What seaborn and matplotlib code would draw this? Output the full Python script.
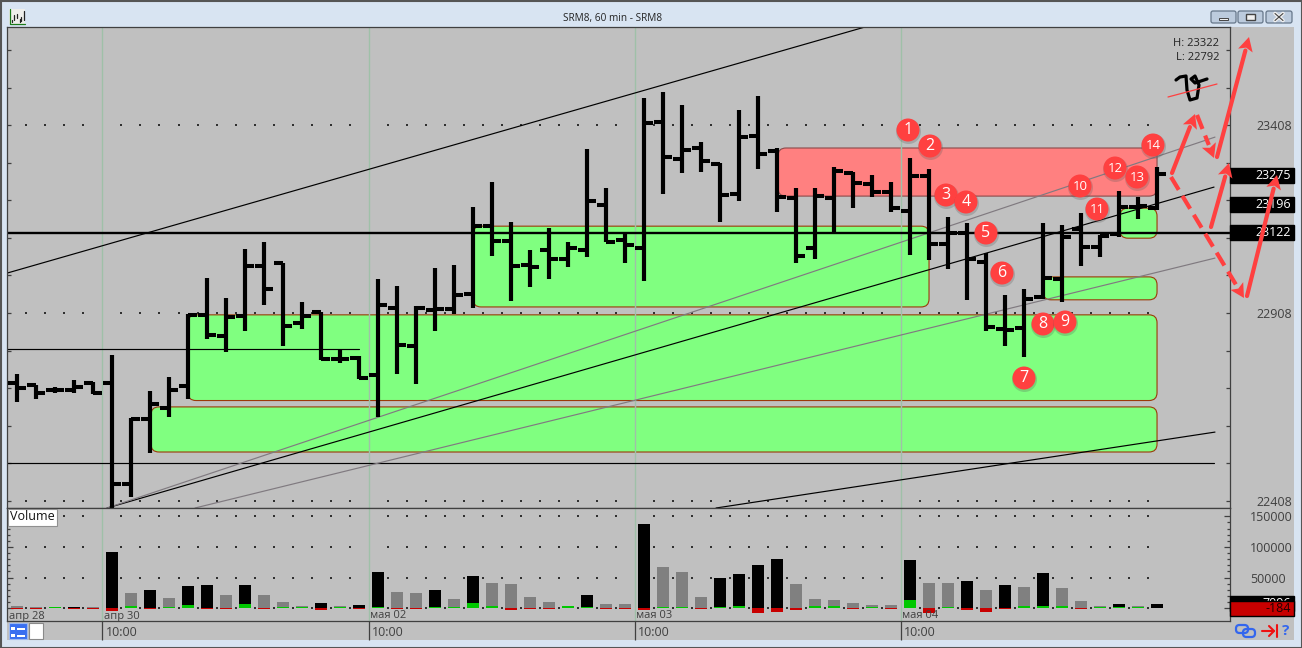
import numpy as np
import pandas as pd
import seaborn as sns
import matplotlib.pyplot as plt
from matplotlib.patches import Rectangle, FancyBboxPatch, Circle, Polygon

# hourly bars, bar 0 is the 10:00 bar of apr 30
bars = list(range(-5, 56))
highs = [22746, 22716, 22711, 22730, 22724, 22796, 22629, 22700, 22738, 22905, 23001, 22948, 23078, 23097, 23041,
         22937, 22911, 22810, 22794, 22998, 22980, 22927, 23028, 23036, 23190, 23256, 23150, 23076, 23134, 23097,
         23344, 23240, 23123, 23480, 23496, 23461, 23363, 23307, 23448, 23485, 23347, 23240, 23240, 23296, 23283,
         23275, 23256, 23320, 23291, 23163, 23147, 23068, 22956, 22972, 23147, 23142, 23174, 23115, 23232, 23216,
         23296]
lows = [22671, 22679, 22695, 22695, 22692, 22389, 22418, 22536, 22631, 22679, 22839, 22804, 22860, 22929, 22820,
        22865, 22783, 22775, 22732, 22631, 22746, 22719, 22860, 22905, 22921, 23060, 22940, 22977, 22998, 23030,
        23057, 23097, 23041, 22993, 23224, 23280, 23283, 23150, 23206, 23291, 23177, 23041, 23052, 23123, 23187,
        23216, 23177, 23062, 23049, 23025, 22943, 22860, 22820, 22791, 22945, 22937, 23033, 23057, 23110, 23158,
        23182]
opens = [22722, 22716, 22703, 22703, 22722, 22722, 22453, 22626, 22655, 22714, 22903, 22847, 22900, 23033, 23041,
         22881, 22911, 22786, 22788, 22743, 22921, 22820, 22916, 22919, 22958, 23139, 23099, 23036, 23076, 23052,
         23076, 23195, 23102, 23081, 23416, 23318, 23347, 23304, 23224, 23379, 23339, 23214, 23081, 23214, 23280,
         23251, 23230, 23179, 23272, 23091, 23121, 23044, 22865, 22868, 22950, 22998, 23131, 23083, 23118, 23190,
         23187]
closes = [22708, 22695, 22703, 22711, 22695, 22453, 22626, 22666, 22703, 22903, 22849, 22897, 23033, 22972, 22873,
          22900, 22786, 22786, 22735, 22929, 22823, 22921, 22919, 22956, 23139, 23099, 23033, 23030, 23052, 23081,
          23206, 23097, 23089, 23413, 23323, 23342, 23312, 23222, 23376, 23331, 23216, 23060, 23219, 23286, 23254,
          23230, 23187, 23272, 23091, 23121, 23052, 22871, 22863, 22945, 23001, 23110, 23083, 23113, 23190, 23193,
          23278]

volume = [3300, 2500, 2500, 2500, 2500, 91000, 24500, 29300, 16300, 35900, 37500, 21200, 37500, 21200, 9800,
          4000, 8150, 3300, 4900, 58700, 26000, 24500, 29300, 15200, 52700, 41300, 39700, 18500, 10300, 3800,
          21700, 7000, 7000, 137500, 67400, 59200, 18500, 49400, 56000, 70600, 80400, 39700, 15200, 13600, 8700,
          5400, 5400, 78800, 41300, 41300, 44600, 29900, 38000, 34800, 57600, 33200, 12000, 3800, 7000, 3800,
          7096]
delta = [-1000, -1000, 2000, -1000, -1000, -5000, 4500, -1000, 2000, 5000, -1000, -1000, 6500, -1000, 2000,
         2000, -3000, 2500, -1500, 2000, -1000, -1000, 2000, 2500, 8700, 3800, -2700, -1000, -1000, 3000,
         2700, -1000, -1000, -2500, 2700, 2700, -1000, 2700, 3800, -7600, -6000, -2700, 3800, 3800, -1000,
         2700, -1000, 13600, -7600, 2700, -2700, -6000, -1000, 3800, 3800, 3800, -1000, 2700, 2700, 2700,
         -184]
vol_side = list("gggkg" "kgkgkkgkgggkgkkggkgkggggg" "kggkgggkkkkgggggg" "kggkgkgkgggkgk")

# zones: first bar, last bar, top price, bottom price
green_zones = [(4, 55, 22903, 22675), (2.05, 55, 22658, 22538), (19, 43, 23139, 22924),
               (49, 55, 23004, 22943), (53.05, 55, 23187, 23107)]
red_zones = [(35.05, 55, 23347, 23219)]

# lines: x0, price0, x1, price1
black_lines = [(-0.26, 22389, 58, 23243), (-5.53, 23014, 39.63, 23669), (31.79, 22389, 58.05, 22591),
               (-5.53, 22811, 13, 22811), (-5.53, 22508, 58, 22508)]
gray_lines = [(-0.26, 22389, 58.05, 23376), (4.37, 22389, 58.05, 23054)]
main_level = 23122

day_starts = [-0.5, 13.5, 27.5, 41.5]
date_labels = ["апр 28", "апр 30", "мая 02", "мая 03", "мая 04"]
date_x = [-5.4, -0.4, 13.6, 27.6, 41.6]
price_labels = [23408, 22908, 22408]
price_tags = [23275, 23196, 23122]
volume_labels = [150000, 100000, 50000]

# hand drawn marks on top of the screenshot, in pixels
circle_xy = [(908, 130), (930, 146), (946, 195), (966, 202), (986, 233), (1002, 273), (1024, 378), (1043, 324),
             (1065, 322), (1080, 186), (1097, 209), (1115, 168), (1137, 177), (1153, 145)]
solid_arrows = [((1172, 173), (1195, 114)), ((1217, 157), (1249, 37)), ((1211, 227), (1229, 163)),
                ((1247, 296), (1277, 175))]
dashed_arrows = [((1197, 115), (1214, 158)), ((1171, 177), (1244, 298))]
scribble = [(1176, 80), (1180, 77), (1186, 76), (1187, 90), (1190, 100), (1197, 98), (1199, 85), (1195, 76),
            (1191, 79), (1195, 83), (1207, 79)]

W, H = 1302, 648
GRAY = "#c0c0c0"
CHROME = "#d8e4f2"
DARK = "#404040"
RED = "#ff4040"

sns.set_theme(style="white", rc={"axes.linewidth": 0.9, "axes.edgecolor": DARK, "xtick.color": DARK,
                                 "ytick.color": DARK, "text.color": DARK})
plt.rcParams["font.family"] = ["Open Sans", "DejaVu Sans"]


def px_axes(fig, left, top, right, bottom, **kw):
    return fig.add_axes([left / W, 1 - bottom / H, (right - left) / W, (bottom - top) / H], **kw)


def add_dots(ax, levels):
    dot_x = [b + 0.5 for b in bars[:-1] if b + 0.5 not in day_starts]
    xx, yy = np.meshgrid(dot_x, levels)
    sns.scatterplot(x=xx.ravel(), y=yy.ravel(), color="#303030", s=0.8, marker="s", linewidth=0, ax=ax,
                    legend=False, zorder=0.5)


def add_tag(ax, value, text, face, text_color, zorder=5, edge=None):
    x_tr = ax.get_yaxis_transform()
    y0, y1 = ax.get_ylim()
    box_h = 15 / ax.get_window_extent().height * (y1 - y0)
    ax.add_patch(Rectangle((1, value - box_h / 2), 64 / 1223, box_h, transform=x_tr, clip_on=False,
                           facecolor=face, edgecolor=edge or face, lw=1, zorder=zorder))
    ax.annotate(text, xy=(1, value), xycoords=x_tr, xytext=(61, 0), textcoords="offset pixels", ha="right",
                va="center", color=text_color, fontsize=9, annotation_clip=False, zorder=zorder + 0.1)


def draw_arrow(ax, start, end, dashed=False):
    start, end = np.array(start, float), np.array(end, float)
    unit = (end - start) / np.linalg.norm(end - start)
    normal = np.array([-unit[1], unit[0]])
    base = end - unit * 14
    ax.plot([start[0], base[0]], [start[1], base[1]], color=RED, lw=3, solid_capstyle="round",
            dashes=(3.6, 1.7) if dashed else (None, None))
    ax.add_patch(Polygon([end, base + normal * 7.5, base + unit * 3, base - normal * 7.5], color=RED, lw=0))


fig = plt.figure(figsize=(W / 100, H / 100), dpi=100)

# window chrome
bg = fig.add_axes([0, 0, 1, 1], zorder=-1)
bg.set_xlim(0, W)
bg.set_ylim(H, 0)
bg.axis("off")
bg.add_patch(Rectangle((0, 0), W, H, color=CHROME, lw=0))
title_fade = np.linspace(0, 1, 32).reshape(-1, 1)
bg.imshow(title_fade, extent=(0, W, 30, 0), aspect="auto", cmap=sns.blend_palette(["#aebfd4", CHROME], as_cmap=True))
bg.set_xlim(0, W)
bg.set_ylim(H, 0)
bg.add_patch(Rectangle((7, 27), 1287, 613, color=GRAY, lw=0))
bg.add_patch(Rectangle((0.5, 0.5), W - 1, H - 1, fill=False, edgecolor="#555555", lw=1.5))
bg.text(613, 19, "SRM8, 60 min - SRM8", ha="center", va="center", fontsize=7.2, color="#222222")
for left, right in [(1211, 1236), (1238, 1263), (1266, 1292)]:
    bg.add_patch(FancyBboxPatch((left, 11), right - left, 12, boxstyle="round,pad=0,rounding_size=2",
                                facecolor="#bccbdd", edgecolor="#66778a", lw=0.9))
bg.add_patch(Rectangle((1219, 17.5), 9, 2.5, facecolor="#f0f0f0", edgecolor="#444444", lw=0.7))
bg.add_patch(Rectangle((1246, 13.5), 9, 6.5, facecolor="#f0f0f0", edgecolor="#444444", lw=1))
bg.plot([1275, 1283], [13.5, 20.5], color="#f0f0f0", lw=2.6)
bg.plot([1283, 1275], [13.5, 20.5], color="#f0f0f0", lw=2.6)
bg.plot([1275, 1283], [13.5, 20.5], color="#444444", lw=0.8)
bg.plot([1283, 1275], [13.5, 20.5], color="#444444", lw=0.8)
# small chart icon in the corner
bg.add_patch(Rectangle((9, 9), 16, 14.5, facecolor="#eeeeea", edgecolor="none"))
bg.plot([9.5, 9.5, 25], [9, 23.5, 23.5], color="#1a7a1a", lw=0.9)
for ix, y0, y1 in [(11.5, 20, 22), (14, 15, 20), (16.5, 14, 18), (19.5, 19, 22), (21, 17, 21), (23.5, 11, 20)]:
    bg.plot([ix, ix], [y0, y1], color="#222222", lw=0.9)
# bottom icons
bg.add_patch(Rectangle((9, 623), 18, 16, facecolor="#3a6ff0", edgecolor="#9db8f0", lw=0.8))
for row in (627, 634):
    bg.add_patch(Rectangle((11, row), 4, 3, color="white", lw=0))
    bg.add_patch(Rectangle((17, row + 0.5), 8, 2, color="white", lw=0))
bg.add_patch(Rectangle((29, 623), 14, 16, facecolor="white", edgecolor="#8a8a8a", lw=0.8))
bg.add_patch(FancyBboxPatch((1236, 625), 12, 8, boxstyle="round,pad=0,rounding_size=3.5", fill=False,
                            edgecolor="#3366ee", lw=1.6))
bg.add_patch(FancyBboxPatch((1243, 629), 12, 8, boxstyle="round,pad=0,rounding_size=3.5", fill=False,
                            edgecolor="#3366ee", lw=1.6))
bg.plot([1262, 1274], [631, 631], color="#ee1111", lw=1.5)
bg.plot([1269, 1274, 1269], [626, 631, 636], color="#ee1111", lw=1.5)
bg.plot([1277, 1277], [625, 637], color="#ee1111", lw=1.5)
bg.text(1286, 631, "?", ha="center", va="center", fontsize=11, fontweight="bold", color="#3366ee")

# price pane
ax = px_axes(fig, 7, 27, 1230, 508, zorder=1)
ax.set_facecolor(GRAY)
ax.set_xlim(-5.526, 58.84)
ax.set_ylim(22389, 23669)
add_dots(ax, price_labels)
for x0, x1, top, bottom in green_zones:
    ax.add_patch(FancyBboxPatch((x0, bottom), x1 - x0, top - bottom, boxstyle="round,pad=0,rounding_size=0.42",
                                mutation_aspect=50.5, facecolor="#80ff80", edgecolor="#9b3a08", lw=0.8, zorder=1))
for x0, x1, top, bottom in red_zones:
    ax.add_patch(FancyBboxPatch((x0, bottom), x1 - x0, top - bottom, boxstyle="round,pad=0,rounding_size=0.42",
                                mutation_aspect=50.5, facecolor="#ff8080", edgecolor="#8b4a4a", lw=0.8, zorder=1))
for day in day_starts:
    ax.axvline(day, color="#9fc0a8", lw=1, zorder=1.5)
for x0, p0, x1, p1 in black_lines:
    ax.plot([x0, x1], [p0, p1], color="black", lw=0.85, zorder=2)
for x0, p0, x1, p1 in gray_lines:
    ax.plot([x0, x1], [p0, p1], color="#807a80", lw=0.85, zorder=2)
ax.axhline(main_level, color="black", lw=1.7, zorder=2)

wicks = pd.DataFrame({"bar": bars * 2, "price": highs + lows})
open_ticks = pd.DataFrame({"bar": bars * 2, "x": [b - 0.47 for b in bars] + bars, "price": opens * 2})
close_ticks = pd.DataFrame({"bar": bars * 2, "x": bars + [b + 0.47 for b in bars], "price": closes * 2})
sns.lineplot(data=wicks, x="bar", y="price", units="bar", estimator=None, color="black", lw=3.0,
             solid_capstyle="butt", legend=False, ax=ax, zorder=3)
for ticks in (open_ticks, close_ticks):
    sns.lineplot(data=ticks, x="x", y="price", units="bar", estimator=None, color="black", lw=2.9,
                 solid_capstyle="butt", legend=False, ax=ax, zorder=3)
ax.set_xlabel("")
ax.set_ylabel("")
ax.set_xticks([])
price_ticks = np.arange(22408, 23669, 100)
ax.set_yticks(price_ticks, [str(p) if p in price_labels else "" for p in price_ticks])
ax.tick_params(axis="y", direction="in", left=True, right=True, labelleft=False, labelright=True, length=3,
               width=0.9, pad=18.7, labelsize=9)
for value in price_tags:
    add_tag(ax, value, str(value), "black", "white")

# volume pane
vol = px_axes(fig, 7, 508, 1230, 621, zorder=1)
vol.set_facecolor(GRAY)
add_dots(vol, volume_labels + [0])
for day in day_starts:
    vol.axvline(day, color="#9fc0a8", lw=1, zorder=1.5)
vol_df = pd.DataFrame({"bar": bars, "volume": volume, "delta": delta,
                       "side": vol_side, "sign": ["up" if d > 0 else "down" for d in delta]})
sns.barplot(data=vol_df, x="bar", y="volume", hue="side", palette={"k": "black", "g": "#808080"}, native_scale=True,
            dodge=False, width=0.68, saturation=1, errorbar=None, legend=False, linewidth=0, edgecolor="none",
            ax=vol, zorder=2)
sns.barplot(data=vol_df, x="bar", y="delta", hue="sign", palette={"up": "#00c800", "down": "#c80000"},
            native_scale=True, dodge=False, width=0.68, saturation=1, errorbar=None, legend=False, linewidth=0,
            edgecolor="none", ax=vol, zorder=3)
vol.set_xlim(-5.526, 58.84)
vol.set_ylim(-20700, 163400)
vol.set_xlabel("")
vol.set_ylabel("")
vol.set_yticks(volume_labels + [0], [str(v) for v in volume_labels] + [""])
vol.set_yticks(np.arange(0, 160000, 10000), minor=True)
vol.tick_params(axis="y", which="major", direction="in", left=True, right=True, labelleft=False, labelright=True,
                length=4.3, width=0.9, pad=14.4, labelsize=9)
vol.tick_params(axis="y", which="minor", direction="in", left=True, right=True, length=2.2, width=0.9)
vol.set_xticks(day_starts, [""] * len(day_starts))
vol.tick_params(axis="x", direction="out", bottom=True, length=13.7, width=0.9, color=DARK)
for x, label in zip(date_x, date_labels):
    vol.annotate(label, xy=(x, 0), xycoords=("data", "axes fraction"), xytext=(0, 5), textcoords="offset pixels",
                 ha="left", va="center", fontsize=8)
for day in day_starts:
    vol.annotate("10:00", xy=(day, 0), xycoords=("data", "axes fraction"), xytext=(3, -12),
                 textcoords="offset pixels", ha="left", va="center", fontsize=9, annotation_clip=False)
add_tag(vol, 7096, "7096", "black", "white", zorder=5)
add_tag(vol, -184, "-184", "#c80000", "#200000", zorder=6, edge="black")
vol.annotate("Volume", xy=(0, 1), xycoords="axes fraction", xytext=(3, -9), textcoords="offset pixels",
             ha="left", va="center", fontsize=9, color="#111111", zorder=8,
             bbox=dict(boxstyle="square,pad=0.16", facecolor="white", edgecolor="#909090", lw=0.8))

# annotations drawn over everything
top = fig.add_axes([0, 0, 1, 1], zorder=10)
top.set_xlim(0, W)
top.set_ylim(H, 0)
top.axis("off")
top.patch.set_visible(False)
top.text(1219, 43, "H: 23322", ha="right", va="center", fontsize=8, color="#222222")
top.text(1219, 57, "L: 22792", ha="right", va="center", fontsize=8, color="#222222")
top.plot(*zip(*scribble), color="black", lw=2.3, solid_joinstyle="round")
top.plot([1168, 1217], [97, 84], color=RED, lw=0.9)
for start, end in solid_arrows:
    draw_arrow(top, start, end)
for start, end in dashed_arrows:
    draw_arrow(top, start, end, dashed=True)
for n, (cx, cy) in enumerate(circle_xy, start=1):
    top.add_patch(Circle((cx + 0.5, cy + 1.5), 12.5, facecolor="#555555", alpha=0.25, lw=0))
    top.add_patch(Circle((cx, cy), 11.5, facecolor=RED, lw=0))
    top.text(cx, cy + 0.3, str(n), ha="center", va="center", color="white", fontsize=11.5 if n < 10 else 9.5)

fig.savefig("out.png", dpi=100)
